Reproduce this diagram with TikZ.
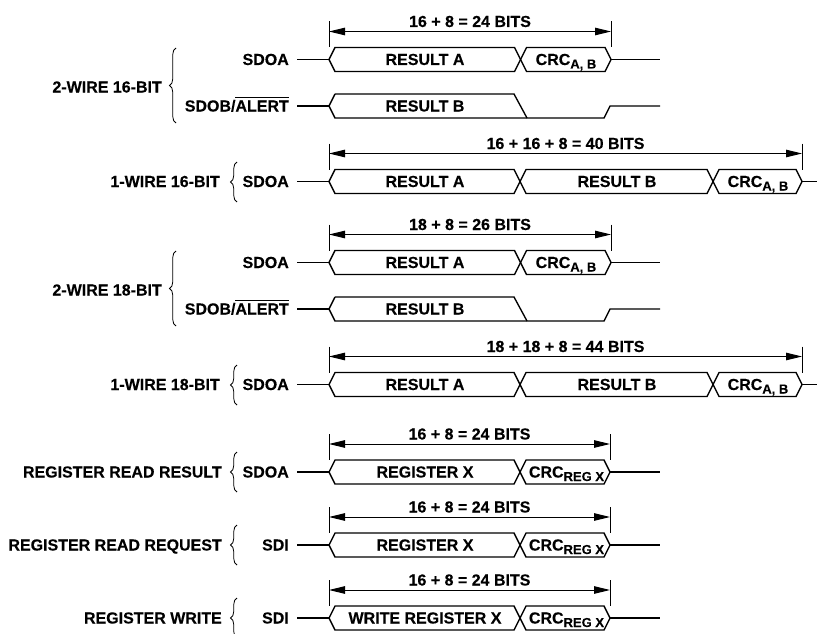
\documentclass[tikz,border=0pt]{standalone}
\usepackage{fontspec}
\setmainfont{Liberation Sans}[BoldFeatures={FakeBold=0.25}]
\usetikzlibrary{arrows.meta,decorations.pathreplacing}
\tikzset{
  bus/.style={line width=1.35pt, line join=miter},
  wire/.style={line width=1.35pt},
  dimln/.style={line width=1pt, {Triangle[length=16pt,width=7.5pt]}-{Triangle[length=16pt,width=7.5pt]}},
  ticks/.style={line width=1pt},
  lbl/.style={font=\fontsize{16}{19}\selectfont\bfseries, inner sep=0pt},
  brc/.style={decorate, decoration={brace, amplitude=6.5pt}, line width=0.8pt},
}
\newcommand\hexseg[3]{\draw[bus] (#1,#3) -- ({#1+6},{#3-12}) -- ({#2-6},{#3-12}) -- (#2,#3) -- ({#2-6},{#3+12}) -- ({#1+6},{#3+12}) -- cycle;}
\newcommand\dimarrow[5]{%
  \coordinate (#1l) at (#2,{#4-28}); \coordinate (#1r) at (#3,{#4-28});
  \draw[ticks] (#2,{#4-38}) -- (#2,{#4-12});
  \draw[ticks] (#3,{#4-38}) -- (#3,{#4-12});
  \draw[dimln] (#1l) -- (#1r);
  \node[lbl, anchor=base] (#1t) at ({(#2+#3)/2},{#4-38+5.5}) {#5};}
\newcommand\crcsub[1]{CRC\raisebox{-3.5pt}{\fontsize{13}{13}\selectfont #1}}
\newcommand\ovl[1]{\leavevmode\vbox{\hrule height 1.1pt\kern 2.5pt\hbox{#1}}}
\newcommand\sigwire[3]{% name, label, y
  \node[lbl, anchor=base east] (#1) at (289,{#3+5.5}) {#2};
  \coordinate (#1s) at (297,#3); \coordinate (#1e) at (329,#3);
  \draw[wire] (#1s) -- (#1e);}
\newcommand\twowire[4]{% prefix, y SDOA, y SDOB, dim label
  \dimarrow{#1d}{329}{611}{#2}{#4}
  \sigwire{#1a}{SDOA}{#2}
  \hexseg{329}{520.5}{#2}
  \hexseg{520.5}{611}{#2}
  \coordinate (#1ae) at (611,#2); \coordinate (#1af) at (660,#2);
  \draw[wire] (#1ae) -- (#1af);
  \node[lbl, anchor=base] (#1ra) at (425,{#2+5.5}) {RESULT A};
  \node[lbl, anchor=base] (#1ca) at (566,{#2+5.5}) {\crcsub{A, B}};
  \sigwire{#1b}{SDOB/\ovl{ALERT}}{#3}
  \draw[bus] (335,{#3-12}) -- (329,#3) -- (335,{#3+12}) -- (604,{#3+12}) -- (610,#3) -- (660,#3);
  \draw[bus] (335,{#3-12}) -- (514,{#3-12}) -- (527,{#3+12});
  \node[lbl, anchor=base] (#1rb) at (425,{#3+5.5}) {RESULT B};}
\newcommand\onewire[3]{% prefix, y, dim label
  \dimarrow{#1d}{329}{802}{#2}{#3}
  \sigwire{#1a}{SDOA}{#2}
  \hexseg{329}{520}{#2}
  \hexseg{520}{713}{#2}
  \hexseg{713}{802}{#2}
  \coordinate (#1ae) at (802,#2); \coordinate (#1af) at (817,#2);
  \draw[wire] (#1ae) -- (#1af);
  \node[lbl, anchor=base] (#1ra) at (425,{#2+5.5}) {RESULT A};
  \node[lbl, anchor=base] (#1rb) at (617,{#2+5.5}) {RESULT B};
  \node[lbl, anchor=base] (#1ca) at (758,{#2+5.5}) {\crcsub{A, B}};}
\newcommand\regrow[5]{% prefix, y, signal, data text, group label
  \dimarrow{#1d}{329}{610}{#2}{16 + 8 = 24 BITS}
  \sigwire{#1a}{#3}{#2}
  \hexseg{329}{520}{#2}
  \hexseg{520}{610}{#2}
  \coordinate (#1ae) at (610,#2); \coordinate (#1af) at (660,#2);
  \draw[wire] (#1ae) -- (#1af);
  \node[lbl, anchor=base] (#1ra) at (425,{#2+5.5}) {#4};
  \node[lbl, anchor=base] (#1ca) at (566.5,{#2+5.5}) {\crcsub{REG X}};
  \node[lbl, anchor=base east] (#1g) at (222,{#2+5.5}) {#5};
  \draw[brc] (237,{#2+20}) -- (237,{#2-20});}
\begin{document}
\begin{tikzpicture}[x=1pt,y=-1pt]
\useasboundingbox (0,0) rectangle (817,634);
% 2-wire 16-bit
\twowire{p}{59.5}{106}{16 + 8 = 24 BITS}
\node[lbl, anchor=base east] (g1) at (162,92.5) {2-WIRE 16-BIT};
\draw[brc] (176,123) -- (176,48);
% 1-wire 16-bit
\onewire{q}{181.5}{16 + 16 + 8 = 40 BITS}
\node[lbl, anchor=base east] (g2) at (220,187) {1-WIRE 16-BIT};
\draw[brc] (237,202) -- (237,162);
% 2-wire 18-bit
\twowire{r}{262.5}{309}{18 + 8 = 26 BITS}
\node[lbl, anchor=base east] (g3) at (162,295.5) {2-WIRE 18-BIT};
\draw[brc] (176,326) -- (176,251);
% 1-wire 18-bit
\onewire{s}{384.5}{18 + 18 + 8 = 44 BITS}
\node[lbl, anchor=base east] (g4) at (220,390) {1-WIRE 18-BIT};
\draw[brc] (237,405) -- (237,365);
% register rows
\regrow{t}{472}{SDOA}{REGISTER X}{REGISTER READ RESULT}
\regrow{u}{545}{SDI}{REGISTER X}{REGISTER READ REQUEST}
\regrow{v}{618}{SDI}{WRITE REGISTER X}{REGISTER WRITE}
\end{tikzpicture}
\end{document}
